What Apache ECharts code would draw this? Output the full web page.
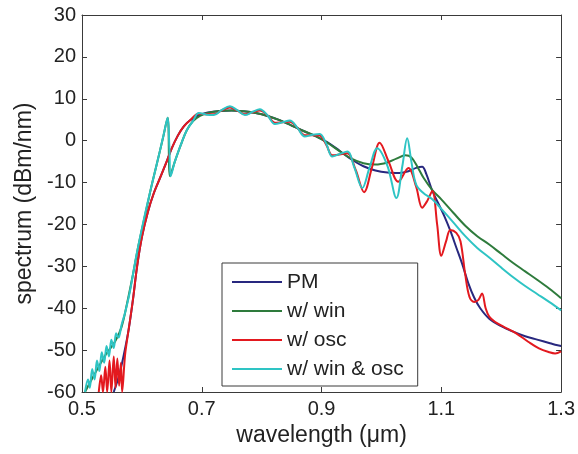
<!DOCTYPE html>
<html>
<head>
<meta charset="utf-8">
<script src="https://cdn.jsdelivr.net/npm/echarts@6/dist/echarts.min.js"></script>
<style>
html,body{margin:0;padding:0;background:#fff;}
#chart{width:578px;height:454px;}
</style>
</head>
<body>
<div id="chart"></div>
<script>
// Series names (legend)
const seriesNames = ['PM', 'w/ win', 'w/ osc', 'w/ win & osc'];

// Tick values
const xTicks = [0.5, 0.7, 0.9, 1.1, 1.3];
const yTicks = [-60, -50, -40, -30, -20, -10, 0, 10, 20, 30];

// [wavelength (um), spectrum (dBm/nm)]
const pmData = [
  [0.553,-60],[0.562,-56],[0.570,-51],[0.578,-45],[0.585,-38],[0.592,-30],[0.600,-23],
  [0.610,-17],[0.620,-12.5],[0.630,-9],[0.640,-5.5],[0.650,-1.8],[0.660,1.2],[0.670,3.4],
  [0.680,4.8],[0.695,6],[0.710,6.7],[0.730,7.1],[0.750,7.2],[0.770,7],[0.790,6.6],
  [0.810,5.9],[0.830,4.9],[0.850,3.6],[0.870,2.3],[0.890,1.1],[0.910,-0.4],[0.930,-2.4],
  [0.950,-4.5],[0.970,-6.1],[0.990,-7.1],[1.010,-7.6],[1.030,-7.7],[1.045,-7.3],[1.058,-6.5],
  [1.068,-6.2],[1.075,-8],[1.085,-12],[1.095,-15],[1.105,-18],[1.115,-21.5],[1.125,-25.5],
  [1.135,-29.5],[1.145,-34],[1.155,-37.5],[1.165,-40],[1.180,-42.5],[1.200,-44.3],
  [1.220,-45.6],[1.240,-46.7],[1.260,-47.5],[1.280,-48.3],[1.290,-48.7],[1.300,-49]
];

const winData = [
  [0.505,-60],[0.520,-56],[0.540,-51],[0.555,-48],[0.566,-44.5],[0.575,-39],[0.585,-32],
  [0.595,-24.5],[0.605,-18],[0.615,-11.5],[0.625,-5.5],[0.635,0.5],[0.643,5.5],[0.647,-8.5],
  [0.655,-5],[0.665,-1],[0.675,2.5],[0.685,4.6],[0.697,5.9],[0.710,6.6],[0.730,7.1],
  [0.750,7.2],[0.770,7],[0.790,6.6],[0.810,5.9],[0.830,4.9],[0.850,3.6],[0.870,2.3],
  [0.890,1.1],[0.910,-0.5],[0.930,-2.5],[0.950,-4.3],[0.970,-5.4],[0.990,-5.7],[1.010,-5.2],
  [1.025,-4.3],[1.040,-3.5],[1.050,-4],[1.060,-6.2],[1.070,-8.8],[1.085,-11.8],[1.100,-14],
  [1.120,-17.2],[1.140,-20.3],[1.160,-22.8],[1.180,-24.8],[1.200,-27],[1.220,-29.2],
  [1.240,-31.2],[1.260,-33.2],[1.280,-35.3],[1.300,-37.6]
];

const oscData = [
  [0.528,-60],[0.532,-56],[0.535,-60],[0.539,-54],[0.542,-60],[0.546,-52.5],[0.549,-60],
  [0.553,-51.5],[0.556,-59],[0.559,-52],[0.562,-58.5],[0.565,-53],[0.567,-60],[0.572,-51],
  [0.578,-45],[0.585,-38],[0.592,-30],[0.600,-23],[0.610,-17],[0.620,-12.5],[0.630,-9],
  [0.640,-5.5],[0.650,-1.8],[0.660,1.2],[0.670,3.4],[0.680,4.8],[0.695,6.4],[0.708,6.3],
  [0.720,6.3],[0.733,7.2],[0.747,7.9],[0.760,7.1],[0.772,6.3],[0.785,6.8],[0.797,7.2],
  [0.810,6],[0.822,4.3],[0.835,4.4],[0.847,4.5],[0.860,3],[0.872,1.3],[0.885,1.3],
  [0.897,1.2],[0.908,-1],[0.918,-3.5],[0.930,-3.3],[0.943,-3],[0.957,-7],[0.971,-12.3],
  [0.984,-6.5],[0.997,-0.5],[1.012,-5],[1.028,-9.8],[1.045,-6.5],[1.058,-11],[1.068,-16],
  [1.076,-14.5],[1.085,-12],[1.093,-20],[1.100,-27.5],[1.108,-24],[1.115,-21.3],[1.125,-22],
  [1.132,-24],[1.140,-32],[1.147,-37.3],[1.155,-38.5],[1.162,-38],[1.168,-36.5],[1.174,-40],
  [1.180,-42],[1.190,-43.3],[1.205,-44.5],[1.225,-46],[1.245,-48],[1.263,-49.6],[1.280,-50.5],
  [1.290,-50.8],[1.300,-50.3]
];

const winOscData = [
  [0.505,-60],[0.510,-57],[0.513,-59],[0.517,-54.5],[0.521,-57],[0.525,-52.5],[0.529,-55],
  [0.533,-50.5],[0.537,-53],[0.541,-49],[0.545,-51.5],[0.549,-47.5],[0.553,-49.5],[0.557,-46],
  [0.561,-47],[0.566,-44],[0.572,-41],[0.580,-36],[0.590,-28],[0.600,-21],[0.610,-14.5],
  [0.620,-8.5],[0.630,-2.5],[0.638,2.5],[0.643,5.5],[0.646,-2],[0.648,-8.5],[0.655,-5],
  [0.665,-1],[0.675,2.5],[0.685,4.6],[0.695,6.6],[0.708,6.2],[0.720,6.1],[0.733,7.3],
  [0.747,8.2],[0.760,7.2],[0.772,6.1],[0.785,6.9],[0.797,7.5],[0.810,6],[0.822,4],
  [0.835,4.4],[0.847,4.8],[0.860,3],[0.872,1],[0.885,1.4],[0.897,1.6],[0.908,-0.8],
  [0.918,-3.8],[0.930,-3.2],[0.943,-2.6],[0.955,-6.5],[0.968,-11.3],[0.980,-6.5],
  [0.993,-1.8],[1.010,-6],[1.025,-13.7],[1.035,-6],[1.043,0.6],[1.050,-5],[1.058,-10.5],
  [1.070,-12.5],[1.085,-14],[1.100,-16.3],[1.120,-19.5],[1.140,-22.8],[1.160,-25.6],
  [1.180,-27.9],[1.200,-30.3],[1.220,-32.6],[1.240,-34.7],[1.260,-36.6],[1.280,-38.5],
  [1.300,-40.5]
];

const colors = ['#28287f', '#2e7b3c', '#e3191f', '#2ec4c4'];
const allData = [pmData, winData, oscData, winOscData];

const FONT = 'Liberation Sans, Arial, sans-serif';
const chart = echarts.init(document.getElementById('chart'), null, {renderer: 'canvas'});

const axisLineStyle = {show: true, onZero: false, lineStyle: {color: '#3a3a3a', width: 1}};

const option = {
  animation: false,
  backgroundColor: '#ffffff',
  grid: {left: 82, right: 16, top: 15, bottom: 62, containLabel: false},
  legend: {
    orient: 'vertical',
    left: 222,
    top: 263,
    padding: [8, 14, 6, 10],
    itemGap: 7,
    itemWidth: 50,
    itemHeight: 2,
    icon: 'rect',
    backgroundColor: '#ffffff',
    borderColor: '#3a3a3a',
    borderWidth: 1,
    borderRadius: 0,
    textStyle: {fontFamily: FONT, fontSize: 21, color: '#222', lineHeight: 22},
    data: seriesNames
  },
  xAxis: [
    {
      type: 'value', min: 0.5, max: 1.3,
      name: 'wavelength (μm)', nameLocation: 'middle', nameGap: 28,
      nameTextStyle: {fontFamily: FONT, fontSize: 23, color: '#222'},
      axisLine: axisLineStyle,
      axisTick: {show: true, inside: true, length: 5, customValues: xTicks, lineStyle: {color: '#3a3a3a'}},
      axisLabel: {customValues: xTicks, margin: 7, fontFamily: FONT, fontSize: 20, color: '#222',
        formatter: v => String(Math.round(v * 10) / 10)},
      splitLine: {show: false}
    },
    {
      type: 'value', min: 0.5, max: 1.3, position: 'top',
      axisLine: axisLineStyle,
      axisTick: {show: true, inside: true, length: 5, customValues: xTicks, lineStyle: {color: '#3a3a3a'}},
      axisLabel: {show: false},
      splitLine: {show: false}
    }
  ],
  yAxis: [
    {
      type: 'value', min: -60, max: 30, interval: 10,
      name: 'spectrum (dBm/nm)', nameLocation: 'middle', nameGap: 44,
      nameTextStyle: {fontFamily: FONT, fontSize: 23, color: '#222'},
      axisLine: axisLineStyle,
      axisTick: {show: true, inside: true, length: 5, customValues: yTicks, lineStyle: {color: '#3a3a3a'}},
      axisLabel: {customValues: yTicks, margin: 6, fontFamily: FONT, fontSize: 20, color: '#222'},
      splitLine: {show: false}
    },
    {
      type: 'value', min: -60, max: 30, interval: 10, position: 'right',
      axisLine: axisLineStyle,
      axisTick: {show: true, inside: true, length: 5, customValues: yTicks, lineStyle: {color: '#3a3a3a'}},
      axisLabel: {show: false},
      splitLine: {show: false}
    }
  ],
  series: seriesNames.map((name, i) => ({
    name: name,
    type: 'line',
    xAxisIndex: 0,
    yAxisIndex: 0,
    data: allData[i],
    symbol: 'none',
    smooth: 0.35,
    clip: true,
    color: colors[i],
    lineStyle: {color: colors[i], width: 2},
    itemStyle: {color: colors[i]},
    z: 2 + i
  }))
};

chart.setOption(option);
</script>
</body>
</html>
